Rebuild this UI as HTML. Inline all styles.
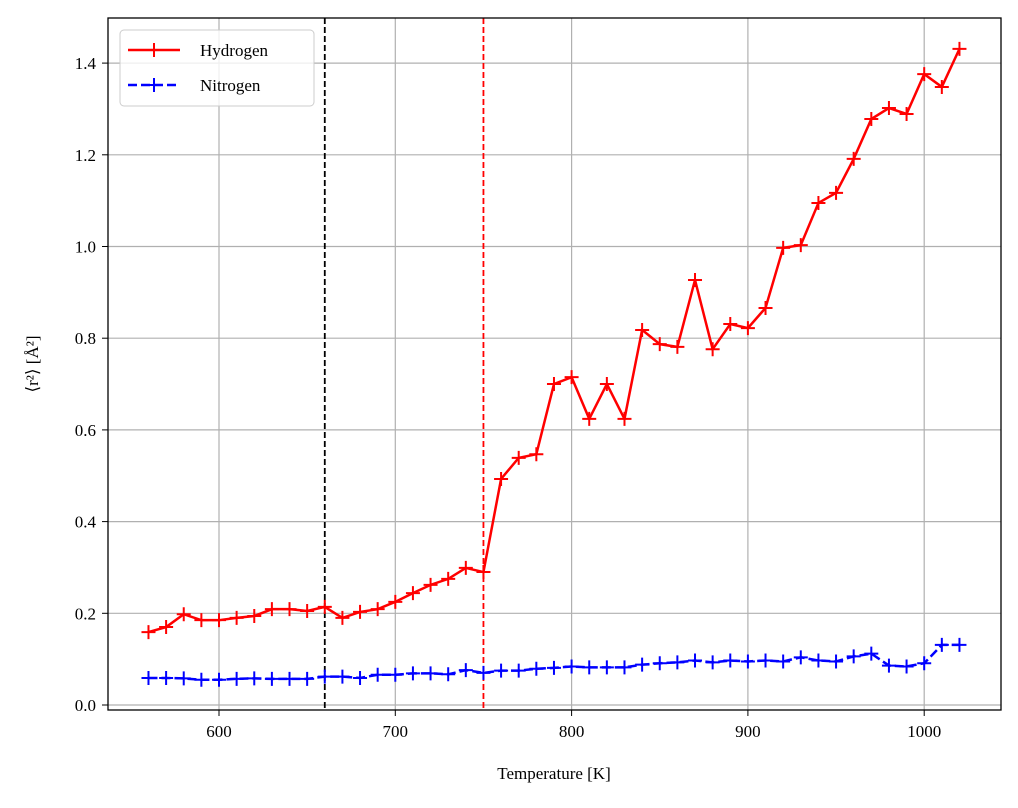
<!DOCTYPE html>
<html><head><meta charset="utf-8"><style>
body{margin:0;background:#fff;}
svg text{font-family:"Liberation Serif","DejaVu Serif",serif;font-size:17px;fill:#000;}
</style></head><body>
<svg id="chart" width="1018" height="803" xmlns="http://www.w3.org/2000/svg">
<g id="grid"></g>
<g id="marks"></g>
<rect x="108" y="18" width="893" height="692" fill="none" stroke="#000" stroke-width="1.3"/>
<g id="ticks"></g>
<text x="554" y="779" text-anchor="middle">Temperature [K]</text>
<text transform="translate(38,364) rotate(-90)" text-anchor="middle">⟨r²⟩ [Å²]</text>
<g>
<rect x="120" y="30" width="194" height="76" rx="4" fill="#fff" fill-opacity="0.8" stroke="#ccc"/>
<g>
<line x1="128" y1="50" x2="180" y2="50" stroke="red" stroke-width="2.5"/>
<path d="M147 50h14M154 43v14" stroke="red" stroke-width="2"/>
<text x="200" y="56">Hydrogen</text></g>
<g>
<line x1="128" y1="85" x2="180" y2="85" stroke="blue" stroke-width="2.5" stroke-dasharray="9,4"/>
<path d="M147 85h14M154 78v14" stroke="blue" stroke-width="2"/>
<text x="200" y="91">Nitrogen</text></g>
</g>
</svg>
<script>
const temps=[];for(let t=560;t<=1020;t+=10)temps.push(t);
const hydrogen=[0.159,0.170,0.198,0.185,0.185,0.19,0.194,0.209,0.209,0.205,0.214,0.19,0.203,0.209,0.225,0.244,0.262,0.275,0.299,0.29,0.493,0.539,0.547,0.700,0.715,0.624,0.700,0.624,0.818,0.787,0.781,0.927,0.776,0.831,0.822,0.866,0.997,1.003,1.095,1.117,1.191,1.278,1.302,1.289,1.376,1.348,1.431];
const nitrogen=[0.059,0.059,0.058,0.055,0.055,0.057,0.058,0.057,0.057,0.057,0.062,0.062,0.059,0.066,0.066,0.069,0.069,0.067,0.076,0.070,0.075,0.075,0.079,0.081,0.084,0.082,0.082,0.082,0.088,0.091,0.093,0.097,0.093,0.097,0.095,0.097,0.095,0.104,0.097,0.095,0.106,0.112,0.086,0.084,0.091,0.131,0.131];
const xTicks=[600,700,800,900,1000];
const yTicks=[0.0,0.2,0.4,0.6,0.8,1.0,1.2,1.4];
const vlines=[{t:660,c:"#000"},{t:750,c:"red"}];
const X=t=>219+(t-600)*1.763;
const Y=v=>705-v*458.5;
const NS="http://www.w3.org/2000/svg";
function mk(parent,tag,attrs){const e=document.createElementNS(NS,tag);for(const k in attrs)e.setAttribute(k,attrs[k]);parent.appendChild(e);return e;}
const grid=document.getElementById('grid'),ticks=document.getElementById('ticks'),marks=document.getElementById('marks');
xTicks.forEach(t=>{const x=X(t);
const g=mk(grid,'line',{x1:x,x2:x,y1:18,y2:710,stroke:'#b0b0b0','stroke-width':1.2});


mk(ticks,'line',{x1:x,x2:x,y1:710,y2:716,stroke:'#000'});
const l=mk(ticks,'text',{x:x,y:737,'text-anchor':'middle'});l.textContent=t;

});
yTicks.forEach(v=>{const y=Y(v);
const g=mk(grid,'line',{x1:108,x2:1001,y1:y,y2:y,stroke:'#b0b0b0','stroke-width':1.2});


mk(ticks,'line',{x1:102,x2:108,y1:y,y2:y,stroke:'#000'});
const l=mk(ticks,'text',{x:96,y:y+6,'text-anchor':'end'});l.textContent=v.toFixed(1);

});
vlines.forEach(v=>{const x=X(v.t);
const l=mk(marks,'line',{x1:x,x2:x,y1:18,y2:710,stroke:v.c,'stroke-width':1.8,'stroke-dasharray':'6,3'});

});
function series(vals,color,dash,name){
const p=mk(marks,'polyline',{points:vals.map((v,i)=>X(temps[i])+','+Y(v)).join(' '),fill:'none',stroke:color,'stroke-width':2.5});
if(dash)p.setAttribute('stroke-dasharray',dash);


vals.forEach((v,i)=>{const x=X(temps[i]),y=Y(v);
const m=mk(marks,'path',{d:`M${x-7} ${y}h14M${x} ${y-7}v14`,stroke:color,'stroke-width':2});

});}
series(hydrogen,'red',null,'hydrogen');
series(nitrogen,'blue','9,4','nitrogen');
</script>
</body></html>
